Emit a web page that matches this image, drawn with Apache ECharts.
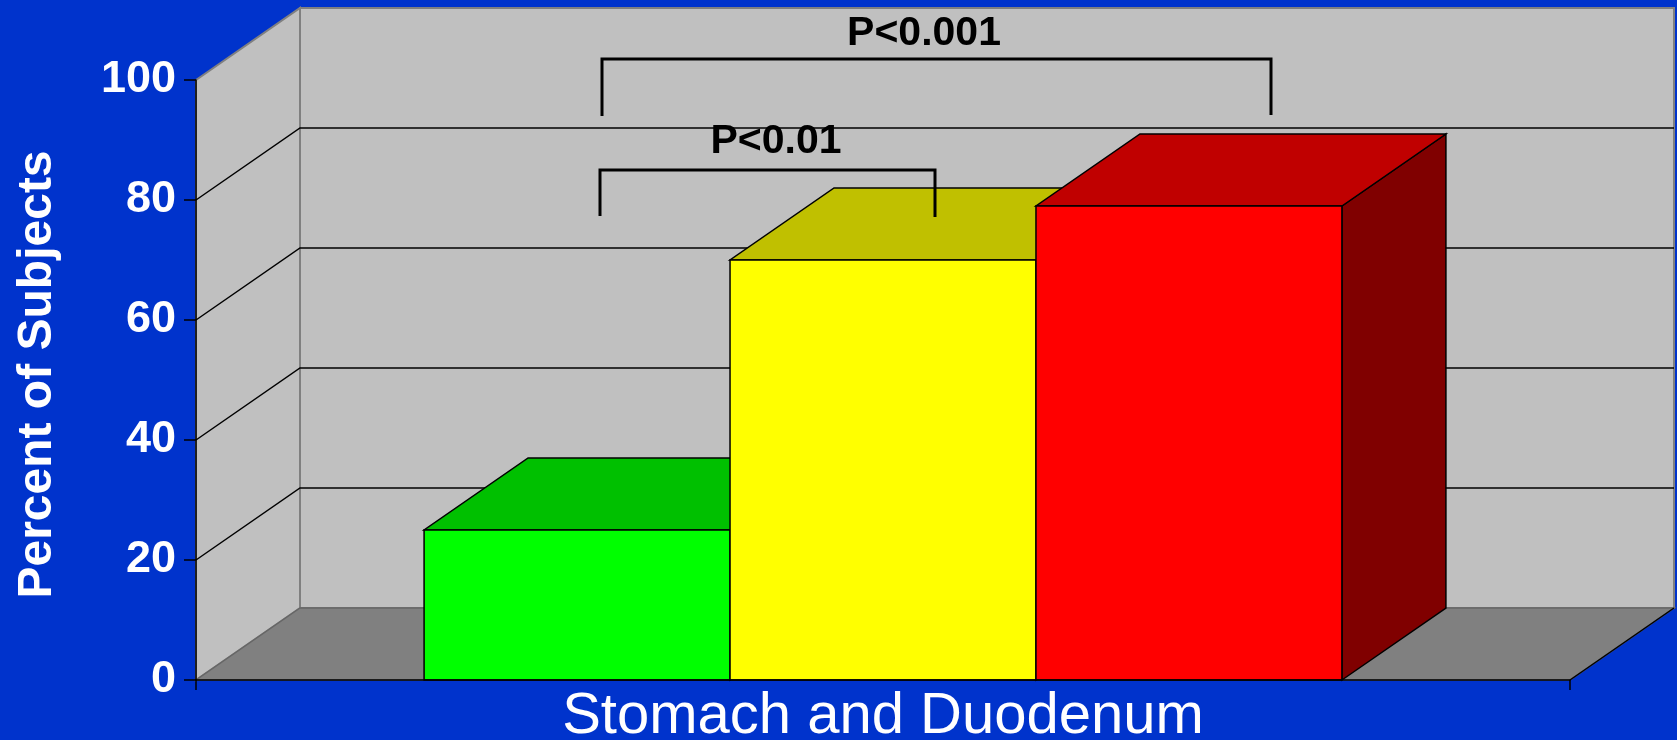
<!DOCTYPE html>
<html>
<head>
<meta charset="utf-8">
<script src="https://cdn.jsdelivr.net/npm/echarts@6/dist/echarts.min.js"></script>
<style>
    html, body { margin: 0; padding: 0; background: #0033cc; }
    #myChart { width: 1677px; height: 740px; }
</style>
</head>
<body>
<div id="myChart"></div>
<script>
    var categories = ['Stomach and Duodenum'];
    var barValues = [25, 70, 79];
    var yTicks = [0, 20, 40, 60, 80, 100];
    var notes = ['P<0.01', 'P<0.001'];

    var frontColors = ['#00ff00', '#ffff00', '#ff0000'];
    var topColors = ['#00c000', '#c0c000', '#c00000'];
    var sideColors = ['#008000', '#808000', '#800000'];

    // 3d depth offset in px
    var DX = 104, DY = -72;

    function renderWalls(params, api) {
        var cs = params.coordSys;
        var x0 = cs.x, x1 = cs.x + cs.width;
        var yBot = api.coord([0, yTicks[0]])[1];
        var yTop = api.coord([0, yTicks[yTicks.length - 1]])[1];
        var children = [
            // back wall
            {
                type: 'polygon',
                shape: { points: [[x0 + DX, yTop + DY], [x1 + DX, yTop + DY], [x1 + DX, yBot + DY], [x0 + DX, yBot + DY]] },
                style: { fill: '#c0c0c0', stroke: '#808080', lineWidth: 2 }
            },
            // left wall
            {
                type: 'polygon',
                shape: { points: [[x0, yTop], [x0 + DX, yTop + DY], [x0 + DX, yBot + DY], [x0, yBot]] },
                style: { fill: '#c0c0c0', stroke: '#808080', lineWidth: 2 }
            },
            // floor
            {
                type: 'polygon',
                shape: { points: [[x0, yBot], [x1, yBot], [x1 + DX, yBot + DY], [x0 + DX, yBot + DY]] },
                style: { fill: '#808080', stroke: '#666', lineWidth: 1.5 }
            },
            {
                type: 'line',
                shape: { x1: x1, y1: yBot, x2: x1 + DX, y2: yBot + DY },
                style: { stroke: '#000', lineWidth: 1.5 }
            }
        ];
        yTicks.forEach(function (t) {
            if (t === yTicks[0] || t === yTicks[yTicks.length - 1]) return;
            var y = api.coord([0, t])[1];
            children.push({
                type: 'polyline',
                shape: { points: [[x0, y], [x0 + DX, y + DY], [x1 + DX, y + DY]] },
                style: { stroke: '#000', lineWidth: 1.5, fill: null }
            });
        });
        return { type: 'group', children: children };
    }

    function renderBar(params, api) {
        var i = api.value(2);
        var n = barValues.length;
        var w = api.size([1, 0])[0] * 0.668 / n;
        var base = api.coord([api.value(0), 0]);
        var top = api.coord([api.value(0), api.value(1)]);
        var xl = base[0] + (i - n / 2) * w, xr = xl + w;
        var yb = base[1], yt = top[1];
        return {
            type: 'group',
            children: [{
                type: 'polygon',
                shape: { points: [[xr, yb], [xr + DX, yb + DY], [xr + DX, yt + DY], [xr, yt]] },
                style: { fill: sideColors[i], stroke: '#000', lineWidth: 1.5 }
            }, {
                type: 'polygon',
                shape: { points: [[xl, yt], [xr, yt], [xr + DX, yt + DY], [xl + DX, yt + DY]] },
                style: { fill: topColors[i], stroke: '#000', lineWidth: 1.5 }
            }, {
                type: 'rect',
                shape: { x: xl, y: yt, width: w, height: yb - yt },
                style: { fill: frontColors[i], stroke: '#000', lineWidth: 1.5 }
            }]
        };
    }

    var myChart = echarts.init(document.getElementById('myChart'));
    myChart.setOption({
        backgroundColor: '#0033cc',
        animation: false,
        grid: {
            left: 196,
            right: 107,
            top: 80,
            bottom: 60,
            outerBoundsMode: 'none'
        },
        xAxis: {
            type: 'category',
            data: categories,
            z: 5,
            axisLine: { lineStyle: { color: '#000', width: 1.5 } },
            axisTick: { show: true, length: 10, lineStyle: { color: '#000', width: 1.5 } },
            axisLabel: {
                color: '#fff',
                fontSize: 58,
                fontFamily: 'Liberation Sans',
                margin: 8
            },
            splitLine: { show: false }
        },
        yAxis: {
            type: 'value',
            min: 0,
            max: 100,
            interval: 20,
            z: 5,
            name: 'Percent of Subjects',
            nameLocation: 'middle',
            nameRotate: 90,
            nameGap: 134,
            nameTextStyle: {
                color: '#fff',
                fontSize: 48,
                fontWeight: 'bold',
                fontFamily: 'Liberation Sans',
                padding: [0, 0, 0, 11]
            },
            axisLine: { show: true, lineStyle: { color: '#000', width: 1.5 } },
            axisTick: { show: true, length: 12, lineStyle: { color: '#000', width: 1.5 } },
            axisLabel: {
                color: '#fff',
                fontSize: 45,
                fontWeight: 'bold',
                fontFamily: 'Liberation Sans',
                margin: 20
            },
            splitLine: { show: false }
        },
        series: [{
            type: 'custom',
            name: 'walls',
            z: 1,
            silent: true,
            renderItem: renderWalls,
            data: [[0, 0]]
        }, {
            type: 'custom',
            name: 'bars',
            z: 2,
            renderItem: renderBar,
            encode: { x: 0, y: 1 },
            data: barValues.map(function (v, i) { return [0, v, i]; })
        }],
        graphic: [{
            type: 'polyline',
            z: 10,
            shape: { points: [[600, 216], [600, 170], [935, 170], [935, 217]] },
            style: { stroke: '#000', lineWidth: 3, fill: null }
        }, {
            type: 'polyline',
            z: 10,
            shape: { points: [[602, 116], [602, 59], [1271, 59], [1271, 115]] },
            style: { stroke: '#000', lineWidth: 3, fill: null }
        }, {
            type: 'text',
            z: 10,
            x: 776, y: 142,
            style: {
                text: notes[0], fill: '#000',
                font: 'bold 41px "Liberation Sans"',
                align: 'center', verticalAlign: 'middle'
            }
        }, {
            type: 'text',
            z: 10,
            x: 924, y: 34,
            style: {
                text: notes[1], fill: '#000',
                font: 'bold 41px "Liberation Sans"',
                align: 'center', verticalAlign: 'middle'
            }
        }]
    });
</script>
</body>
</html>
